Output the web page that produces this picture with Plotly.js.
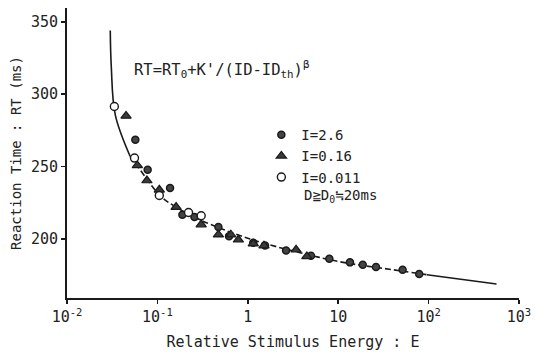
<!DOCTYPE html>
<html>
<head>
<meta charset="utf-8">
<script src="https://cdn.plot.ly/plotly-3.0.1.min.js"></script>
<style>html,body{margin:0;padding:0;background:#fff;}#chart{width:539px;height:356px;}</style>
</head>
<body>
<div id="chart"></div>
<script>
// Relative stimulus energy (E) and reaction time (ms)
const energyHigh = [0.057, 0.078, 0.138, 0.189, 0.257, 0.473, 0.62, 1.15, 1.55, 2.65, 5.0, 7.98, 13.5, 18.7, 26.2, 51.6, 78.7];
const rtHigh     = [268.5, 247.8, 235.2, 216.8, 215.2, 208.3, 202, 197.5, 195.5, 192.1, 188.5, 186.4, 183.9, 182.3, 180.7, 178.8, 175.9];

const energyMid = [0.045, 0.060, 0.0766, 0.105, 0.161, 0.305, 0.473, 0.648, 0.787, 1.15, 1.51, 3.42, 4.5];
const rtMid     = [285, 250.8, 240.4, 234, 222.1, 210, 203, 203, 199.5, 196.8, 195.4, 192.6, 188];

const energyLow = [0.0334, 0.0558, 0.105, 0.221, 0.305];
const rtLow     = [291.5, 255.9, 230.1, 218.3, 216.1];

// Fitted curve
const curveE  = [0.0301, 0.0309, 0.0342, 0.050, 0.060, 0.107, 0.161, 0.297, 1.06, 3.78, 10.5, 48.2, 95.7, 564];
const curveRT = [344, 319, 285.7, 257, 250.5, 230, 222, 213.2, 200, 190.6, 184.3, 178.1, 175.4, 169];

const seriesNames = ["I=2.6", "I=0.16", "I=0.011"];
const xTickVals = [0.01, 0.1, 1, 10, 100, 1000];
const xTickText = ["10<sup>-2</sup>", "10<sup>-1</sup>", "1", "10", "10<sup>2</sup>", "10<sup>3</sup>"];
const yTickVals = [200, 250, 300, 350];

const FONT = "DejaVu Sans Mono, Liberation Mono, monospace";
const INK = "#1a1a1a";

function seg(a, b) { return [curveE.slice(a, b + 1), curveRT.slice(a, b + 1)]; }
const s1 = seg(0, 3), s2 = seg(3, 12), s3 = seg(12, 13);

const traces = [
  {x: s1[0], y: s1[1], mode: "lines", line: {color: INK, width: 1.6, shape: "spline"}, showlegend: false, hoverinfo: "skip"},
  {x: s2[0], y: s2[1], mode: "lines", line: {color: INK, width: 1.6, shape: "spline", dash: "6px,3px"}, showlegend: false, hoverinfo: "skip"},
  {x: s3[0], y: s3[1], mode: "lines", line: {color: INK, width: 1.6}, showlegend: false, hoverinfo: "skip"},
  {x: energyHigh, y: rtHigh, name: seriesNames[0], mode: "markers",
   marker: {symbol: "circle", size: 7, color: "#444", line: {color: INK, width: 1.5}}},
  {x: energyMid, y: rtMid, name: seriesNames[1], mode: "markers",
   marker: {symbol: "triangle-up", size: 9, color: "#3a3a3a", line: {color: INK, width: 1.2}}},
  {x: energyLow, y: rtLow, name: seriesNames[2], mode: "markers",
   marker: {symbol: "circle", size: 8, color: "#fff", line: {color: INK, width: 1.4}}}
];

const layout = {
  width: 539, height: 356,
  margin: {l: 67, r: 20, t: 8, b: 58},
  paper_bgcolor: "#fff", plot_bgcolor: "#fff",
  font: {family: FONT, size: 14, color: "#222"},
  showlegend: true,
  legend: {x: 0.43, y: 0.617, xanchor: "left", yanchor: "top", bgcolor: "rgba(0,0,0,0)",
           font: {family: FONT, size: 14, color: "#222"}, itemwidth: 30, tracegroupgap: 0},
  xaxis: {
    type: "log", range: [-2, 3],
    tickvals: xTickVals, ticktext: xTickText,
    ticks: "outside", ticklen: 4, tickwidth: 1.5, tickcolor: INK,
    showline: true, linecolor: INK, linewidth: 2, mirror: false,
    showgrid: false, zeroline: false,
    tickfont: {family: FONT, size: 15, color: "#222"},
    title: {text: "Relative Stimulus Energy : E", font: {family: FONT, size: 15, color: "#222"}, standoff: 11}
  },
  yaxis: {
    range: [159.3, 359.5],
    tickvals: yTickVals,
    ticks: "outside", ticklen: 4, tickwidth: 1.5, tickcolor: INK,
    showline: true, linecolor: INK, linewidth: 2, mirror: false,
    showgrid: false, zeroline: false,
    tickfont: {family: FONT, size: 15, color: "#222"},
    title: {text: "Reaction Time : RT (ms)", font: {family: FONT, size: 14, color: "#222"}, standoff: 6}
  },
  annotations: [
    {x: -1.278, y: 316.8, xref: "x", yref: "y", xanchor: "left", yanchor: "middle", showarrow: false,
     text: "RT=RT<sub>0</sub>+K'/(ID-ID<sub>th</sub>)<sup>β</sup>", font: {family: FONT, size: 15.5, color: "#222"}},
    {x: 0.600, y: 229.6, xref: "x", yref: "y", xanchor: "left", yanchor: "middle", showarrow: false,
     text: "D≧D<sub>0</sub>≒20ms", font: {family: FONT, size: 14, color: "#222"}}
  ]
};

Plotly.newPlot("chart", traces, layout, {staticPlot: true, displayModeBar: false});
</script>
</body>
</html>
